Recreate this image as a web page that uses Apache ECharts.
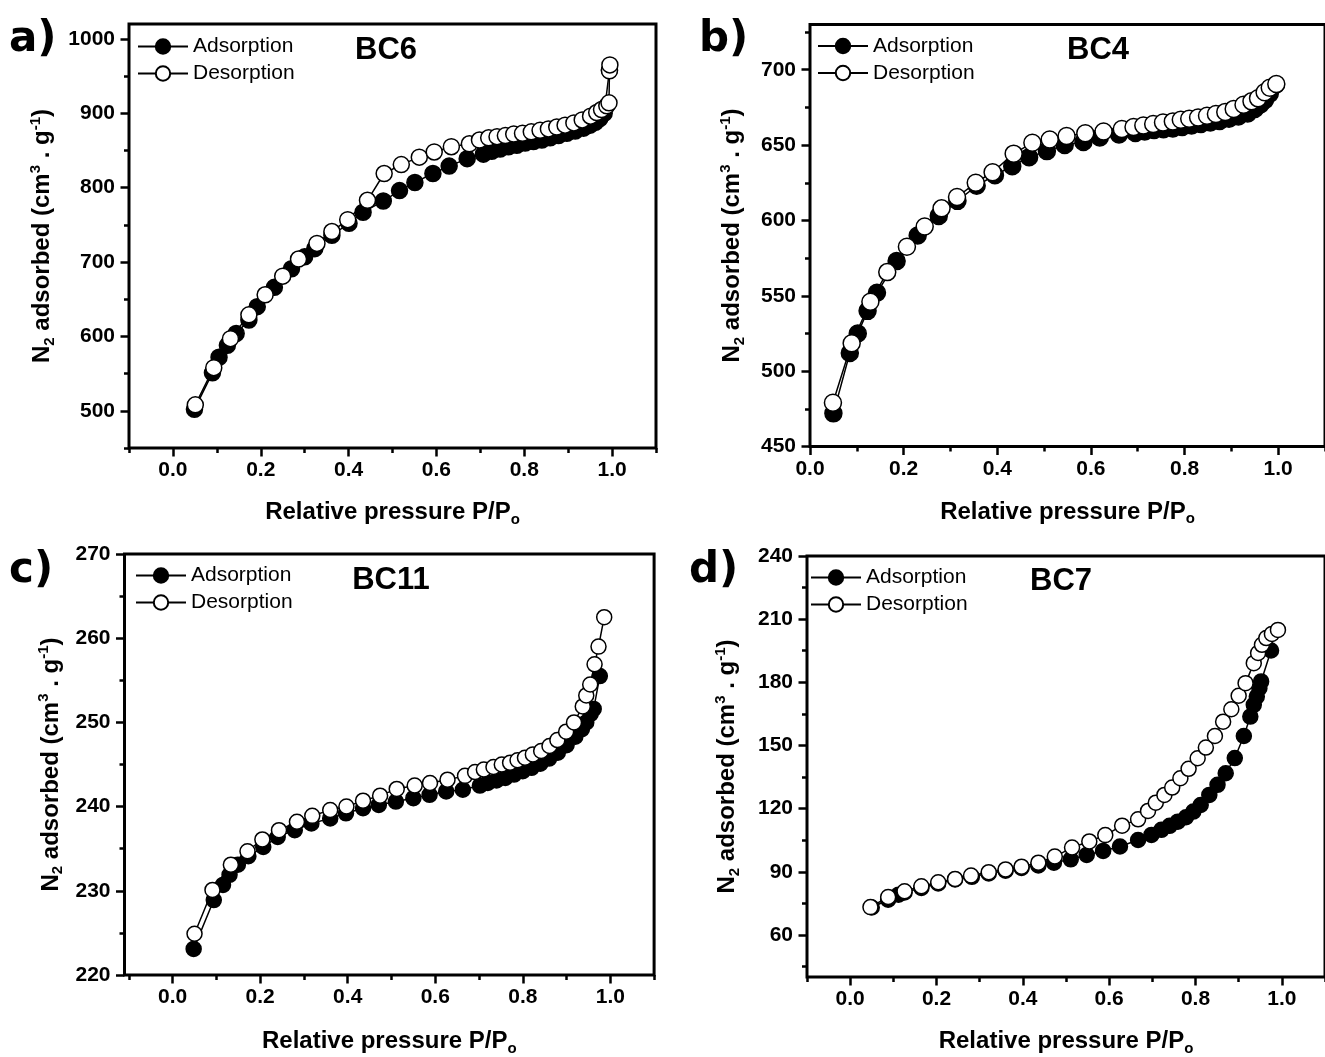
<!DOCTYPE html>
<html>
<head>
<meta charset="utf-8">
<script src="https://cdn.jsdelivr.net/npm/echarts@6/dist/echarts.min.js"></script>
<style>
  html, body { margin: 0; background: #fff; }
  #chart { width: 1325px; height: 1057px; }
</style>
</head>
<body>
<div id="chart"></div>
<script>
// ---- BC6 (panel a)
const aAdsX = [0.049, 0.090, 0.105, 0.124, 0.144, 0.173, 0.192, 0.231, 0.270, 0.300, 0.323, 0.362, 0.401, 0.433, 0.479, 0.516, 0.551, 0.592, 0.629, 0.670, 0.707, 0.726, 0.745, 0.764, 0.783, 0.802, 0.821, 0.840, 0.859, 0.878, 0.897, 0.916, 0.935, 0.950, 0.962, 0.972, 0.982, 0.994];
const aAdsY = [502, 551, 572, 588, 604, 622, 640, 666, 691, 707, 718, 736, 752, 767, 782, 796, 807, 819, 829, 839, 845, 849, 852, 855, 857, 860, 862, 864, 867, 870, 873, 876, 880, 884, 888, 893, 900, 958];
const aDesX = [0.051, 0.093, 0.131, 0.173, 0.210, 0.250, 0.286, 0.328, 0.362, 0.398, 0.443, 0.481, 0.520, 0.561, 0.595, 0.634, 0.675, 0.698, 0.719, 0.738, 0.757, 0.776, 0.796, 0.816, 0.836, 0.855, 0.874, 0.893, 0.913, 0.932, 0.951, 0.965, 0.976, 0.988, 0.993, 0.994, 0.995];
const aDesY = [508, 558, 597, 629, 656, 681, 704, 725, 741, 757, 783, 819, 831, 841, 848, 855, 859, 864, 867, 868.5, 870, 872, 873, 875, 877, 879, 881.5, 884, 887, 891, 896, 901, 905, 910, 914, 957, 965];

// ---- BC4 (panel b)
const bAdsX = [0.050, 0.085, 0.102, 0.123, 0.143, 0.185, 0.230, 0.275, 0.315, 0.356, 0.395, 0.432, 0.468, 0.506, 0.544, 0.584, 0.619, 0.660, 0.695, 0.715, 0.735, 0.755, 0.775, 0.795, 0.815, 0.835, 0.855, 0.875, 0.895, 0.915, 0.935, 0.950, 0.962, 0.972, 0.982, 0.995];
const bAdsY = [472, 512, 525, 540, 552, 573, 590, 603, 613, 623, 630, 636, 642, 646, 650, 652, 655, 657, 658, 659, 660, 660.5, 661, 662, 663, 664, 665, 666, 667.5, 669, 671, 674, 677, 680, 684, 690];
const bDesX = [0.049, 0.089, 0.129, 0.165, 0.207, 0.245, 0.281, 0.314, 0.354, 0.390, 0.435, 0.475, 0.512, 0.548, 0.588, 0.627, 0.666, 0.691, 0.712, 0.733, 0.754, 0.775, 0.792, 0.810, 0.829, 0.848, 0.867, 0.887, 0.905, 0.926, 0.943, 0.957, 0.971, 0.982, 0.996];
const bDesY = [479, 518.5, 546, 565.7, 582.5, 596, 608, 615.5, 625, 632, 644.3, 651.5, 653.7, 656, 657.8, 659, 660.6, 662, 663, 664, 665, 665.7, 666.8, 667.5, 668.3, 669.5, 670.6, 672, 674, 676.8, 679, 681, 685, 688, 690.5];

// ---- BC11 (panel c)
const cAdsX = [0.048, 0.094, 0.115, 0.130, 0.149, 0.173, 0.207, 0.240, 0.279, 0.317, 0.360, 0.396, 0.435, 0.471, 0.510, 0.550, 0.587, 0.625, 0.663, 0.702, 0.720, 0.740, 0.760, 0.780, 0.800, 0.820, 0.840, 0.860, 0.880, 0.900, 0.920, 0.935, 0.945, 0.955, 0.962, 0.976];
const cAdsY = [223.1, 228.9, 230.7, 231.9, 233.1, 234.1, 235.2, 236.4, 237.2, 238.0, 238.6, 239.2, 239.8, 240.2, 240.6, 241.0, 241.4, 241.8, 242.0, 242.5, 242.8, 243.1, 243.4, 243.8, 244.2, 244.6, 245.1, 245.7, 246.4, 247.3, 248.3, 249.2, 250.0, 251.0, 251.6, 255.5];
const cDesX = [0.050, 0.091, 0.133, 0.171, 0.205, 0.243, 0.284, 0.319, 0.360, 0.397, 0.435, 0.474, 0.512, 0.553, 0.588, 0.628, 0.668, 0.691, 0.711, 0.733, 0.752, 0.771, 0.788, 0.805, 0.823, 0.842, 0.861, 0.879, 0.899, 0.917, 0.937, 0.945, 0.954, 0.964, 0.973, 0.986];
const cDesY = [224.9, 230.1, 233.1, 234.7, 236.1, 237.2, 238.2, 238.9, 239.6, 240.0, 240.7, 241.3, 242.1, 242.5, 242.8, 243.2, 243.65, 244.1, 244.4, 244.7, 245.0, 245.2, 245.5, 245.8, 246.2, 246.6, 247.2, 247.9, 248.9, 250.0, 251.9, 253.2, 254.5, 256.9, 259.0, 262.5];

// ---- BC7 (panel d)
const dAdsX = [0.050, 0.088, 0.112, 0.126, 0.165, 0.204, 0.243, 0.282, 0.321, 0.360, 0.397, 0.436, 0.472, 0.511, 0.548, 0.586, 0.625, 0.667, 0.698, 0.721, 0.740, 0.759, 0.778, 0.795, 0.812, 0.832, 0.851, 0.870, 0.891, 0.912, 0.927, 0.935, 0.942, 0.948, 0.952, 0.975];
const dAdsY = [73, 76.7, 79.1, 80.2, 82.3, 84.4, 86.3, 87.6, 89.2, 90.5, 91.8, 93, 94.3, 95.9, 98, 99.9, 102, 105.1, 107.5, 109.9, 111.8, 113.8, 115.9, 118.6, 121.7, 126.5, 131.3, 136.8, 144, 154.5, 163.7, 169.3, 173.2, 177.2, 180.4, 195.1];
const dDesX = [0.047, 0.088, 0.126, 0.165, 0.204, 0.243, 0.280, 0.321, 0.360, 0.397, 0.436, 0.474, 0.514, 0.554, 0.591, 0.630, 0.667, 0.690, 0.708, 0.728, 0.746, 0.765, 0.784, 0.805, 0.824, 0.845, 0.864, 0.883, 0.900, 0.916, 0.935, 0.945, 0.954, 0.964, 0.977, 0.991];
const dDesY = [73.2, 78, 80.7, 83.1, 85, 86.6, 88.2, 89.8, 91.1, 92.4, 94.3, 97.2, 101.5, 104.4, 107.4, 111.9, 114.9, 118.9, 122.8, 126.5, 130, 134.4, 138.9, 143.9, 149, 154.5, 161.3, 167.2, 173.6, 179.6, 189.1, 193.9, 197.8, 201, 203, 204.9];

// ---- tick values
const xMajor = [0, 0.2, 0.4, 0.6, 0.8, 1.0];
const xMinor = [-0.1, 0.1, 0.3, 0.5, 0.7, 0.9, 1.1];
const aYMajor = [500, 600, 700, 800, 900, 1000];
const aYMinor = [450, 550, 650, 750, 850, 950];
const bYMajor = [450, 500, 550, 600, 650, 700];
const bYMinor = [475, 525, 575, 625, 675, 725];
const cYMajor = [220, 230, 240, 250, 260, 270];
const cYMinor = [225, 235, 245, 255, 265];
const dYMajor = [60, 90, 120, 150, 180, 210, 240];
const dYMinor = [45, 75, 105, 135, 165, 195, 225];

const seriesNames = ['Adsorption', 'Desorption'];
const panelLetters = ['a)', 'b)', 'c)', 'd)'];
const sampleNames = ['BC6', 'BC4', 'BC11', 'BC7'];

const FONT = '"Liberation Sans", Arial, Helvetica, sans-serif';

const panels = [
  { ads: [aAdsX, aAdsY], des: [aDesX, aDesY], xMin: -0.1, xMax: 1.1, yMin: 450, yMax: 1020,
    yMajor: aYMajor, yMinor: aYMinor, grid: { left: 129, top: 24, width: 527, height: 424 },
    yGap: 72, xGap: 50, sym: 16, legend: { left: 137, top: 36 },
    letter: [9, 40], title: [386, 50] },
  { ads: [bAdsX, bAdsY], des: [bDesX, bDesY], xMin: 0, xMax: 1.1, yMin: 450, yMax: 730,
    yMajor: bYMajor, yMinor: bYMinor, grid: { left: 810, top: 24.5, width: 522.5, height: 422 },
    yGap: 63, xGap: 51, sym: 17, legend: { left: 817, top: 35.5 },
    letter: [699, 40], title: [1098, 50] },
  { ads: [cAdsX, cAdsY], des: [cDesX, cDesY], xMin: -0.11, xMax: 1.1, yMin: 220, yMax: 270,
    yMajor: cYMajor, yMinor: cYMinor, grid: { left: 124.5, top: 554, width: 529.6, height: 422.4 },
    yGap: 59, xGap: 52, sym: 15, legend: { left: 135, top: 565 },
    letter: [9, 571], title: [391, 580] },
  { ads: [dAdsX, dAdsY], des: [dDesX, dDesY], xMin: -0.1, xMax: 1.1, yMin: 40, yMax: 240,
    yMajor: dYMajor, yMinor: dYMinor, grid: { left: 807, top: 556, width: 523, height: 421 },
    yGap: 65, xGap: 50, sym: 15, legend: { left: 810, top: 567 },
    letter: [689, 571], title: [1061, 581] }
];

const nameRich = {
  sub: { fontSize: 15, fontWeight: 'bold', fontFamily: FONT, color: '#000', lineHeight: 13, verticalAlign: 'bottom' },
  sup: { fontSize: 15, fontWeight: 'bold', fontFamily: FONT, color: '#000', lineHeight: 13, verticalAlign: 'top' }
};
const nameStyle = { fontSize: 24, fontWeight: 'bold', fontFamily: FONT, color: '#000', lineHeight: 29, rich: nameRich };
const tickLabel = { color: '#000', fontSize: 21, fontWeight: 'bold', fontFamily: FONT };

const option = {
  animation: false,
  backgroundColor: '#fff',
  grid: [], xAxis: [], yAxis: [], series: [], legend: [], graphic: []
};

panels.forEach((p, i) => {
  option.grid.push(Object.assign({ show: true, borderColor: '#000', borderWidth: 3, backgroundColor: 'transparent' }, p.grid));

  const xi = option.xAxis.length;
  option.xAxis.push({
    type: 'value', gridIndex: i, position: 'bottom', min: p.xMin, max: p.xMax,
    splitLine: { show: false }, axisLine: { show: false, onZero: false },
    axisTick: { show: true, length: 8.5, lineStyle: { color: '#000', width: 2.5 }, customValues: xMajor },
    axisLabel: Object.assign({ customValues: xMajor, margin: 12, formatter: v => v.toFixed(1) }, tickLabel),
    name: 'Relative pressure P/P{sub|o}', nameLocation: 'middle', nameGap: p.xGap, nameTextStyle: nameStyle
  });
  option.xAxis.push({
    type: 'value', gridIndex: i, position: 'bottom', min: p.xMin, max: p.xMax,
    splitLine: { show: false }, axisLine: { show: false, onZero: false }, axisLabel: { show: false },
    axisTick: { show: true, length: 5, lineStyle: { color: '#000', width: 2.5 }, customValues: xMinor }
  });

  const yi = option.yAxis.length;
  option.yAxis.push({
    type: 'value', gridIndex: i, position: 'left', min: p.yMin, max: p.yMax,
    splitLine: { show: false }, axisLine: { show: false, onZero: false },
    axisTick: { show: true, length: 8.5, lineStyle: { color: '#000', width: 2.5 }, customValues: p.yMajor },
    axisLabel: Object.assign({ customValues: p.yMajor, margin: 14, formatter: v => String(v) }, tickLabel),
    name: 'N{sub|2} adsorbed (cm{sup|3} . g{sup|-1})', nameLocation: 'middle', nameRotate: 90,
    nameGap: p.yGap, nameTextStyle: nameStyle
  });
  option.yAxis.push({
    type: 'value', gridIndex: i, position: 'left', min: p.yMin, max: p.yMax,
    splitLine: { show: false }, axisLine: { show: false, onZero: false }, axisLabel: { show: false },
    axisTick: { show: true, length: 5, lineStyle: { color: '#000', width: 2.5 }, customValues: p.yMinor }
  });

  [p.ads, p.des].forEach((xy, k) => {
    option.series.push({
      name: seriesNames[k], type: 'line', xAxisIndex: xi, yAxisIndex: yi,
      data: xy[0].map((x, j) => [x, xy[1][j]]),
      symbol: 'circle', symbolSize: p.sym, showSymbol: true,
      lineStyle: { color: '#000', width: 1.5 },
      itemStyle: { color: k === 0 ? '#000' : '#fff', borderColor: '#000', borderWidth: 1.5 },
      emphasis: { disabled: true }, z: 2 + k
    });
  });

  option.legend.push({
    left: p.legend.left, top: p.legend.top, orient: 'vertical', padding: 0,
    itemWidth: 50, itemHeight: 18, itemGap: 6, selectedMode: false,
    data: seriesNames,
    textStyle: { color: '#000', fontSize: 21, fontFamily: FONT }
  });

  option.graphic.push({
    type: 'text', x: p.letter[0], y: p.letter[1],
    style: { text: panelLetters[i], fill: '#000', font: 'bold 42px "DejaVu Sans", sans-serif',
      align: 'left', verticalAlign: 'middle', textAlign: 'left', textVerticalAlign: 'middle' }
  });
  option.graphic.push({
    type: 'text', x: p.title[0], y: p.title[1],
    style: { text: sampleNames[i], fill: '#000', font: 'bold 31px ' + FONT,
      align: 'center', verticalAlign: 'middle', textAlign: 'center', textVerticalAlign: 'middle' }
  });
});

const chart = echarts.init(document.getElementById('chart'));
chart.setOption(option);
</script>
</body>
</html>
